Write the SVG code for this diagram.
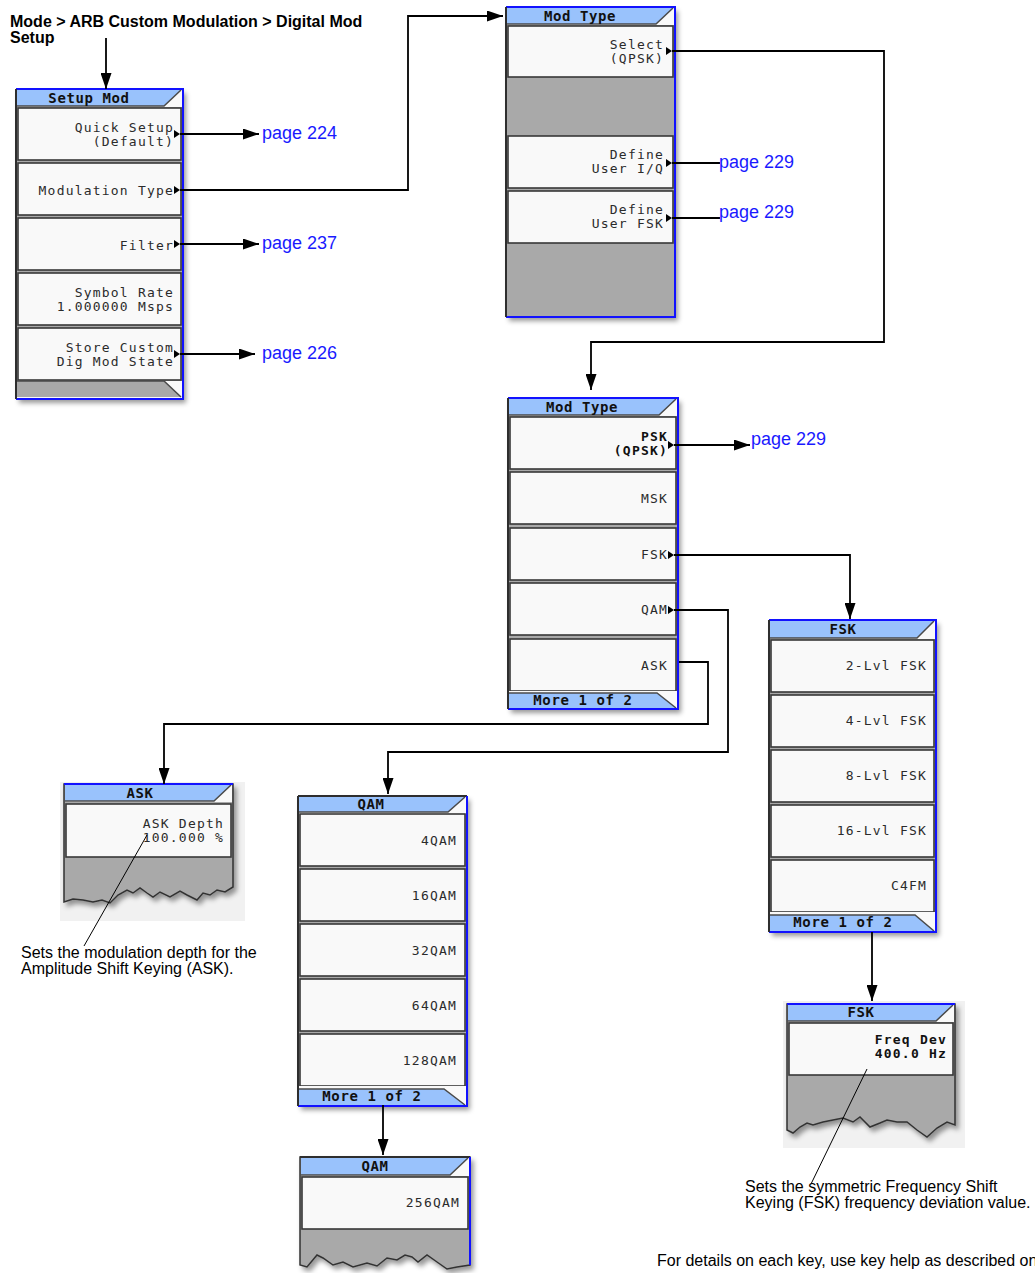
<svg xmlns="http://www.w3.org/2000/svg" width="1035" height="1273" viewBox="0 0 1035 1273">
<defs>
<style>
.bg{fill:#a9a9a9}
.face{fill:#f9f9f9}
.tb{fill:#99c2fc}
.key{fill:#f9f9f9;stroke:#383838;stroke-width:1.6}
.edge{fill:none;stroke:#4a4a4a;stroke-width:1.5}
.blue{fill:none;stroke:#1212ff;stroke-width:2}
.dark{fill:none;stroke:#2e2e2e;stroke-width:2}
.lbl{font-family:"DejaVu Sans Mono",monospace;font-size:13px;letter-spacing:1.2px;fill:#2b2b2b;text-anchor:end}
.lblb{font-family:"DejaVu Sans Mono",monospace;font-size:13px;letter-spacing:1.2px;font-weight:bold;fill:#111;text-anchor:end}
.ttl{font-family:"DejaVu Sans Mono",monospace;font-size:14px;letter-spacing:0.6px;font-weight:bold;fill:#111;text-anchor:middle}
.link{font-family:"Liberation Sans",Arial,sans-serif;font-size:18px;fill:#1a1aff}
.note{font-family:"Liberation Sans",Arial,sans-serif;font-size:16px;fill:#000}
.hdr{font-family:"Liberation Sans",Arial,sans-serif;font-size:16px;font-weight:bold;fill:#000}
.conn{fill:none;stroke:#000;stroke-width:1.8}
.call{fill:none;stroke:#000;stroke-width:1}
.tri{fill:#000}
.torn{fill:#a9a9a9;stroke:#333;stroke-width:1.5}
.lite{fill:#f1f1f1}
</style>
<filter id="sh" x="-10%" y="-10%" width="130%" height="130%">
<feGaussianBlur in="SourceAlpha" stdDeviation="2.5"/>
<feOffset dx="3" dy="4" result="b"/>
<feFlood flood-color="#000" flood-opacity="0.4"/>
<feComposite in2="b" operator="in"/>
<feMerge><feMergeNode/><feMergeNode in="SourceGraphic"/></feMerge>
</filter>
<marker id="ah" viewBox="0 0 16 11" refX="16" refY="5.5" markerWidth="16" markerHeight="11" markerUnits="userSpaceOnUse" orient="auto">
<path d="M0,0 L16,5.5 L0,11 Z" fill="#000"/>
</marker>
</defs>
<rect width="1035" height="1273" fill="#fff"/>

<g id="header">
<text class="hdr" x="10" y="27">Mode &gt; ARB Custom Modulation &gt; Digital Mod</text>
<text class="hdr" x="10" y="43">Setup</text>
</g>

<!-- Setup Mod -->
<g id="setup-mod">
<rect class="bg" x="16" y="89" width="167" height="310" filter="url(#sh)"/>
<rect class="face" x="17" y="90" width="165" height="17"/>
<polygon class="tb" points="17,90 181,90 164,106 17,106"/>
<polyline class="edge" points="17,106 164,106 181,90"/>
<text class="ttl" x="89" y="103">Setup Mod</text>
<rect class="key" x="18" y="108" width="163" height="52"/>
<rect class="key" x="18" y="163" width="163" height="52"/>
<rect class="key" x="18" y="218" width="163" height="52"/>
<rect class="key" x="18" y="273" width="163" height="52"/>
<rect class="key" x="18" y="328" width="163" height="52"/>
<text class="lbl" x="174" y="132">Quick Setup</text>
<text class="lbl" x="174" y="146">(Default)</text>
<text class="lbl" x="174" y="195">Modulation Type</text>
<text class="lbl" x="174" y="250">Filter</text>
<text class="lbl" x="174" y="297">Symbol Rate</text>
<text class="lbl" x="174" y="311">1.000000 Msps</text>
<text class="lbl" x="174" y="352">Store Custom</text>
<text class="lbl" x="174" y="366">Dig Mod State</text>
<polygon class="tri" points="174,130 180,134 174,138"/>
<polygon class="tri" points="174,186 180,190 174,194"/>
<polygon class="tri" points="174,240 180,244 174,248"/>
<polygon class="tri" points="174,350 180,354 174,358"/>
<rect class="face" x="17" y="381" width="165" height="17"/>
<polygon class="bg" points="17,381 164,381 181,397 17,397"/>
<polyline class="edge" points="17,381 164,381 181,397"/>
<path class="blue" d="M16,89 H183 V399 H16"/>
<path class="dark" d="M16,89 V399"/>
</g>

<!-- Mod Type (upper) -->
<g id="mod-type-1">
<rect class="bg" x="506" y="7" width="169" height="310" filter="url(#sh)"/>
<rect class="face" x="507" y="8" width="167" height="17"/>
<polygon class="tb" points="507,8 673,8 656,24 507,24"/>
<polyline class="edge" points="507,24 656,24 673,8"/>
<text class="ttl" x="580" y="21">Mod Type</text>
<rect class="key" x="508" y="26" width="165" height="51"/>
<rect class="key" x="508" y="136" width="165" height="52"/>
<rect class="key" x="508" y="191" width="165" height="52"/>
<text class="lbl" x="664" y="49">Select</text>
<text class="lbl" x="664" y="63">(QPSK)</text>
<text class="lbl" x="664" y="159">Define</text>
<text class="lbl" x="664" y="173">User I/Q</text>
<text class="lbl" x="664" y="214">Define</text>
<text class="lbl" x="664" y="228">User FSK</text>
<polygon class="tri" points="666,47 672,51 666,55"/>
<polygon class="tri" points="666,159 672,163 666,167"/>
<polygon class="tri" points="666,214 672,218 666,222"/>
<path class="blue" d="M506,7 H675 V317 H506"/>
<path class="dark" d="M506,7 V317"/>
</g>

<!-- Mod Type (lower) -->
<g id="mod-type-2">
<rect class="bg" x="508" y="398" width="170" height="311" filter="url(#sh)"/>
<rect class="face" x="509" y="399" width="168" height="17"/>
<polygon class="tb" points="509,399 676,399 659,415 509,415"/>
<polyline class="edge" points="509,415 659,415 676,399"/>
<text class="ttl" x="582" y="412">Mod Type</text>
<rect class="key" x="510" y="417" width="166" height="52"/>
<rect class="key" x="510" y="472" width="166" height="52"/>
<rect class="key" x="510" y="528" width="166" height="52"/>
<rect class="key" x="510" y="583" width="166" height="52"/>
<rect class="key" x="510" y="639" width="166" height="52"/>
<text class="lblb" x="668" y="441">PSK</text>
<text class="lblb" x="668" y="455">(QPSK)</text>
<text class="lbl" x="668" y="503">MSK</text>
<text class="lbl" x="668" y="559">FSK</text>
<text class="lbl" x="668" y="614">QAM</text>
<text class="lbl" x="668" y="670">ASK</text>
<polygon class="tri" points="668,441 674,445 668,449"/>
<polygon class="tri" points="668,551 674,555 668,559"/>
<polygon class="tri" points="668,606 674,610 668,614"/>
<rect class="face" x="509" y="691" width="168" height="17"/>
<polygon class="tb" points="509,693 657,693 676,708 509,708"/>
<polyline class="edge" points="509,693 657,693 676,708"/>
<text class="ttl" x="583" y="705">More 1 of 2</text>
<path class="blue" d="M508,398 H678 V709 H508"/>
<path class="dark" d="M508,398 V709"/>
</g>

<!-- ASK -->
<g id="ask">
<rect class="lite" x="60" y="782" width="185" height="139"/>
<path class="torn" filter="url(#sh)" d="M64,784 H233 V887 L225,892 L217,890 L210,895 L203,893 L197,900 L187,895 L180,891 L170,897 L160,892 L153,897 L147,893 L140,888 L133,893 L127,890 L118,895 L110,903 L102,900 L93,902 L83,900 L73,899 L64,902 Z"/>
<rect class="face" x="65" y="785" width="167" height="17"/>
<polygon class="tb" points="65,785 231,785 214,801 65,801"/>
<polyline class="edge" points="65,801 214,801 231,785"/>
<text class="ttl" x="140" y="798">ASK</text>
<rect class="key" x="66" y="804" width="165" height="53"/>
<text class="lbl" x="224" y="828">ASK Depth</text>
<text class="lbl" x="224" y="842">100.000 %</text>
<path class="blue" d="M64,784 H233"/>
</g>

<!-- QAM -->
<g id="qam-1">
<rect class="bg" x="298" y="796" width="169" height="310" filter="url(#sh)"/>
<rect class="face" x="299" y="797" width="167" height="17"/>
<polygon class="tb" points="299,797 465,797 448,812 299,812"/>
<polyline class="edge" points="299,812 448,812 465,797"/>
<text class="ttl" x="371" y="809">QAM</text>
<rect class="key" x="300" y="814" width="165" height="52"/>
<rect class="key" x="300" y="869" width="165" height="52"/>
<rect class="key" x="300" y="924" width="165" height="52"/>
<rect class="key" x="300" y="979" width="165" height="52"/>
<rect class="key" x="300" y="1034" width="165" height="52"/>
<text class="lbl" x="457" y="845">4QAM</text>
<text class="lbl" x="457" y="900">16QAM</text>
<text class="lbl" x="457" y="955">32QAM</text>
<text class="lbl" x="457" y="1010">64QAM</text>
<text class="lbl" x="457" y="1065">128QAM</text>
<rect class="face" x="299" y="1086" width="167" height="19"/>
<polygon class="tb" points="299,1089 444,1089 465,1105 299,1105"/>
<polyline class="edge" points="299,1089 444,1089 465,1105"/>
<text class="ttl" x="372" y="1101">More 1 of 2</text>
<path class="dark" d="M298,796 H467"/>
<path class="blue" d="M467,796 V1106 H298"/>
<path class="dark" d="M298,796 V1106"/>
</g>

<!-- QAM page 2 -->
<g id="qam-2">
<path class="torn" filter="url(#sh)" d="M300,1157 H470 V1265 L457,1267 L447,1269 L437,1262 L427,1255 L418,1262 L412,1257 L405,1255 L397,1260 L387,1258 L377,1266 L367,1263 L353,1267 L343,1262 L333,1265 L323,1258 L317,1255 L307,1267 L300,1265 Z"/>
<rect class="face" x="301" y="1158" width="168" height="18"/>
<polygon class="tb" points="301,1158 468,1158 450,1175 301,1175"/>
<polyline class="edge" points="301,1175 450,1175 468,1158"/>
<text class="ttl" x="375" y="1171">QAM</text>
<rect class="key" x="302" y="1177" width="166" height="52"/>
<text class="lbl" x="460" y="1207">256QAM</text>
<path class="dark" d="M300,1157 H470"/>
<path class="blue" d="M470,1157 V1265"/>
</g>

<!-- FSK -->
<g id="fsk-1">
<rect class="bg" x="769" y="620" width="167" height="312" filter="url(#sh)"/>
<rect class="face" x="770" y="621" width="165" height="18"/>
<polygon class="tb" points="770,621 934,621 917,638 770,638"/>
<polyline class="edge" points="770,638 917,638 934,621"/>
<text class="ttl" x="843" y="634">FSK</text>
<rect class="key" x="771" y="640" width="163" height="52"/>
<rect class="key" x="771" y="695" width="163" height="52"/>
<rect class="key" x="771" y="750" width="163" height="52"/>
<rect class="key" x="771" y="805" width="163" height="52"/>
<rect class="key" x="771" y="860" width="163" height="52"/>
<text class="lbl" x="927" y="670">2-Lvl FSK</text>
<text class="lbl" x="927" y="725">4-Lvl FSK</text>
<text class="lbl" x="927" y="780">8-Lvl FSK</text>
<text class="lbl" x="927" y="835">16-Lvl FSK</text>
<text class="lbl" x="927" y="890">C4FM</text>
<rect class="face" x="770" y="912" width="165" height="19"/>
<polygon class="tb" points="770,915 915,915 934,931 770,931"/>
<polyline class="edge" points="770,915 915,915 934,931"/>
<text class="ttl" x="843" y="927">More 1 of 2</text>
<path class="blue" d="M769,620 H936 V932 H769"/>
<path class="dark" d="M769,620 V932"/>
</g>

<!-- FSK page 2 -->
<g id="fsk-2">
<rect class="lite" x="783" y="1001" width="182" height="147"/>
<path class="torn" filter="url(#sh)" d="M787,1004 H955 V1125 L947,1122 L937,1128 L927,1137 L917,1130 L907,1122 L897,1122 L887,1120 L880,1123 L870,1127 L860,1117 L853,1122 L843,1118 L833,1120 L823,1122 L813,1125 L807,1123 L800,1127 L793,1133 L787,1130 Z"/>
<rect class="face" x="788" y="1005" width="166" height="17"/>
<polygon class="tb" points="788,1005 953,1005 936,1021 788,1021"/>
<polyline class="edge" points="788,1021 936,1021 953,1005"/>
<text class="ttl" x="861" y="1017">FSK</text>
<rect class="key" x="789" y="1023" width="164" height="52"/>
<text class="lblb" x="947" y="1044">Freq Dev</text>
<text class="lblb" x="947" y="1058">400.0  Hz</text>
<path class="blue" d="M787,1004 H955"/>
</g>

<g id="connectors">
<path class="conn" marker-end="url(#ah)" d="M106,38 V89"/>
<path class="conn" marker-end="url(#ah)" d="M180,134 H259"/>
<path class="conn" marker-end="url(#ah)" d="M180,190 H408 V16 H503"/>
<path class="conn" marker-end="url(#ah)" d="M180,244 H259"/>
<path class="conn" marker-end="url(#ah)" d="M180,354 H255"/>
<path class="conn" marker-end="url(#ah)" d="M672,51 H884 V342 H591 V390"/>
<path class="conn" d="M672,163 H720"/>
<path class="conn" d="M672,218 H720"/>
<path class="conn" marker-end="url(#ah)" d="M674,445 H750"/>
<path class="conn" marker-end="url(#ah)" d="M674,555 H850 V619"/>
<path class="conn" marker-end="url(#ah)" d="M674,610 H728 V752 H388 V794"/>
<path class="conn" marker-end="url(#ah)" d="M679,662 H708 V724 H164 V784"/>
<path class="conn" marker-end="url(#ah)" d="M383,1105 V1155"/>
<path class="conn" marker-end="url(#ah)" d="M872,932 V1001"/>
<path class="call" d="M147,835 L84,946"/>
<path class="call" d="M867,1069 L811,1184"/>
</g>

<g id="labels">
<text class="link" x="262" y="139">page 224</text>
<text class="link" x="262" y="249">page 237</text>
<text class="link" x="262" y="359">page 226</text>
<text class="link" x="719" y="168">page 229</text>
<text class="link" x="719" y="218">page 229</text>
<text class="link" x="751" y="445">page 229</text>
<text class="note" x="21" y="958">Sets the modulation depth for the</text>
<text class="note" x="21" y="974">Amplitude Shift Keying (ASK).</text>
<text class="note" x="745" y="1192">Sets the symmetric Frequency Shift</text>
<text class="note" x="745" y="1208">Keying (FSK) frequency deviation value.</text>
<text class="note" x="657" y="1266">For details on each key, use key help as described on</text>
</g>
</svg>
